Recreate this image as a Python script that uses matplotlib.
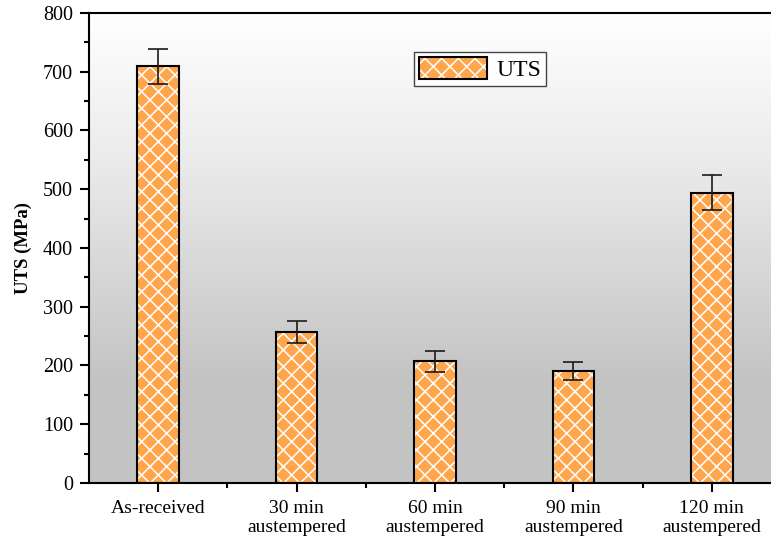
import matplotlib.pyplot as plt
import numpy as np
from matplotlib.colors import LinearSegmentedColormap
from matplotlib.ticker import MultipleLocator, FixedLocator
from matplotlib.legend_handler import HandlerTuple

plt.rcParams['font.family'] = ['Liberation Serif', 'DejaVu Serif']
plt.rcParams['hatch.linewidth'] = 1.1

# Data
categories = ['As-received', '30 min\naustempered', '60 min\naustempered',
              '90 min\naustempered', '120 min\naustempered']
uts = [709, 257, 207, 191, 494]
uts_err = [30, 18, 18, 15, 30]

fig = plt.figure(figsize=(7.71, 5.39), dpi=100)
ax = fig.add_axes([0.1154, 0.1039, 0.8975, 0.872])

x = np.arange(len(categories))

# gradient background: white at top to grey at bottom
cmap = LinearSegmentedColormap.from_list('bg', [(0.0, '#c3c3c3'), (0.22, '#c4c4c4'),
                                                (0.7, '#ececec'), (1.0, '#ffffff')])
grad = np.linspace(0, 1, 256).reshape(-1, 1)
ax.imshow(grad, extent=[-0.5, 4.5, 0, 800], origin='lower', aspect='auto',
          cmap=cmap, zorder=0)

# hatched fill (white hatch) then black outline on top
bars = ax.bar(x, uts, width=0.3, color='#ffa64d', edgecolor='white', linewidth=0,
              hatch='xx', zorder=2)
outline = ax.bar(x, uts, width=0.3, color='none', edgecolor='black', linewidth=1.5,
                 zorder=2.5)
ax.errorbar(x, uts, yerr=uts_err, fmt='none', ecolor='#1a1a1a', elinewidth=1.2,
            capsize=7, capthick=1.2, zorder=3)

ax.set_xlim(-0.5, 4.5)
ax.set_ylim(0, 800)
ax.set_xticks(x)
ax.set_xticklabels(categories, fontsize=14, linespacing=1.1)
ax.xaxis.set_minor_locator(FixedLocator(x[:-1] + 0.5))
ax.yaxis.set_major_locator(MultipleLocator(100))
ax.yaxis.set_minor_locator(MultipleLocator(50))
ax.tick_params(axis='y', labelsize=14.5, pad=5)
ax.tick_params(axis='x', pad=6)
ax.tick_params(which='major', direction='out', length=6.5, width=1.5)
ax.tick_params(which='minor', direction='out', length=3.5, width=1.5)
ax.set_ylabel('UTS (MPa)', fontsize=13.5, fontweight='bold', labelpad=8)

for side in ['left', 'bottom', 'top']:
    ax.spines[side].set_linewidth(1.5)
ax.spines['right'].set_visible(False)

leg = ax.legend([(bars[0], outline[0])], ['UTS'],
                handler_map={tuple: HandlerTuple(ndivide=1)},
                loc='center', bbox_to_anchor=(480 / 771, 1 - 69 / 539),
                bbox_transform=fig.transFigure, fontsize=17, frameon=True,
                fancybox=False, handlelength=2.9, handleheight=1.1,
                borderpad=0.2, handletextpad=0.4, borderaxespad=0)
leg.get_frame().set_edgecolor('#444444')
leg.get_frame().set_linewidth(1.0)
leg.get_frame().set_facecolor('white')
leg.get_frame().set_alpha(1)

fig.savefig('out.png', dpi=100)
